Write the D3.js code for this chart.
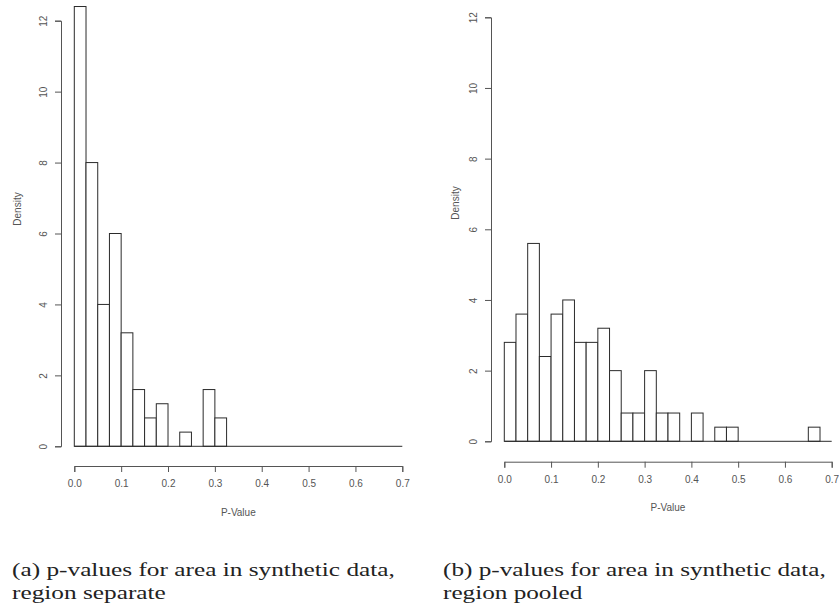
<!DOCTYPE html>
<html lang="en">
    <head>
        <title> P-value histograms </title>
        <script src="https://d3js.org/d3.v7.min.js"></script>
    <style>
        body { margin: 0; background: #fff; }
        .tick text { font-family: Arial, "Liberation Sans", sans-serif; }
    </style>
    </head>

<body>
    <div id="chart"></div>

    <script type="text/javascript">

        // Histogram densities, bins of width 0.025 from 0 to 0.7
        var binWidth = 0.025;
        var separateDensity = [12.4, 8, 4, 6, 3.2, 1.6, 0.8, 1.2, 0, 0.4, 0, 1.6, 0.8, 0,
                               0, 0, 0, 0, 0, 0, 0, 0, 0, 0, 0, 0, 0, 0];
        var pooledDensity = [2.8, 3.6, 5.6, 2.4, 3.6, 4.0, 2.8, 2.8, 3.2, 2.0, 0.8, 0.8, 2.0, 0.8,
                             0.8, 0, 0.8, 0, 0.4, 0.4, 0, 0, 0, 0, 0, 0, 0.4, 0];

        var xTicks = [0, 0.1, 0.2, 0.3, 0.4, 0.5, 0.6, 0.7];
        var yTicks = [0, 2, 4, 6, 8, 10, 12];
        var xLabel = 'P-Value';
        var yLabel = 'Density';
        var captionA = ['(a) p-values for area in synthetic data,', 'region separate'];
        var captionB = ['(b) p-values for area in synthetic data,', 'region pooled'];

        var width = 839;
        var height = 608;

        var svg = d3.select('#chart')
            .append('svg')
            .attr('width', width)
            .attr('height', height);

        var panels = [
            { data: separateDensity, x0: 74.3, x1: 402.3, y0: 446.3, y1: 20.7,
              yAxisX: 61, xAxisY: 466, yLabX: 17, yLabY: 209, xLabY: 516, caption: captionA, capX: 12 },
            { data: pooledDensity, x0: 504.3, x1: 831.7, y0: 441.3, y1: 17.3,
              yAxisX: 491, xAxisY: 461.7, yLabX: 455, yLabY: 203, xLabY: 511, caption: captionB, capX: 443 }
        ];

        var ink = '#2b2b2b';
        var axisInk = '#555';

        panels.forEach(function (p) {
            var x = d3.scaleLinear().domain([0, 0.7]).range([p.x0, p.x1]);
            var y = d3.scaleLinear().domain([0, 12]).range([p.y0, p.y1]);
            var g = svg.append('g');

            // bars (zero bins drawn as flat rects, like R)
            g.selectAll('.bar')
                .data(p.data)
                .enter()
                .append('rect')
                .attr('class', 'bar')
                .attr('x', function (d, i) { return x(i * binWidth); })
                .attr('y', function (d) { return y(d); })
                .attr('width', function (d, i) { return x((i + 1) * binWidth) - x(i * binWidth); })
                .attr('height', function (d) { return y(0) - y(d); })
                .attr('fill', 'white')
                .attr('stroke', ink)
                .attr('stroke-width', 1);

            // baseline across all bins
            g.append('line')
                .attr('x1', x(0)).attr('x2', x(0.7))
                .attr('y1', y(0)).attr('y2', y(0))
                .attr('stroke', ink);

            // x axis, detached below the bars
            var xAxis = d3.axisBottom(x)
                .tickValues(xTicks)
                .tickFormat(d3.format('.1f'))
                .tickSizeOuter(0)
                .tickSize(6)
                .tickPadding(8);
            var gx = g.append('g')
                .attr('transform', 'translate(0,' + p.xAxisY + ')')
                .call(xAxis);
            gx.select('.domain').attr('stroke', axisInk);
            gx.selectAll('.tick line').attr('stroke', axisInk);
            gx.selectAll('.tick text').attr('font-size', 10).attr('fill', '#555');

            // y axis with rotated labels
            var yAxis = d3.axisLeft(y)
                .tickValues(yTicks)
                .tickSizeOuter(0)
                .tickSize(6)
                .tickPadding(0);
            var gy = g.append('g')
                .attr('transform', 'translate(' + p.yAxisX + ',0)')
                .call(yAxis);
            gy.select('.domain').attr('stroke', axisInk);
            gy.selectAll('.tick line').attr('stroke', axisInk);
            gy.selectAll('.tick text')
                .attr('x', null).attr('dy', null)
                .attr('font-size', 10)
                .attr('fill', '#555')
                .attr('text-anchor', 'middle')
                .attr('dominant-baseline', 'central')
                .attr('transform', 'translate(' + (-18) + ',0) rotate(-90)');

            // axis titles
            g.append('text')
                .attr('x', (p.x0 + p.x1) / 2)
                .attr('y', p.xLabY)
                .attr('text-anchor', 'middle')
                .attr('font-family', 'Arial, "Liberation Sans", sans-serif')
                .attr('font-size', 10)
                .attr('fill', '#555')
                .text(xLabel);

            g.append('text')
                .attr('transform', 'translate(' + p.yLabX + ',' + p.yLabY + ') rotate(-90)')
                .attr('text-anchor', 'middle')
                .attr('dominant-baseline', 'central')
                .attr('font-family', 'Arial, "Liberation Sans", sans-serif')
                .attr('font-size', 10)
                .attr('fill', '#555')
                .text(yLabel);

            // caption below the panel, stretched horizontally to the original width
            var cap = svg.append('g');
            var capText = cap.append('text')
                .attr('font-family', '"Liberation Serif", "DejaVu Serif", serif')
                .attr('font-size', 18)
                .attr('fill', '#222');
            capText.selectAll('tspan')
                .data(p.caption)
                .enter()
                .append('tspan')
                .attr('x', 0)
                .attr('y', function (d, i) { return 576 + i * 23; })
                .text(function (d) { return d; });
            var firstLine = capText.select('tspan').node().getComputedTextLength();
            var sx = 383 / firstLine;
            cap.attr('transform', 'translate(' + p.capX + ',0) scale(' + sx + ',1)');
        });

    </script>
</body>
</html>
